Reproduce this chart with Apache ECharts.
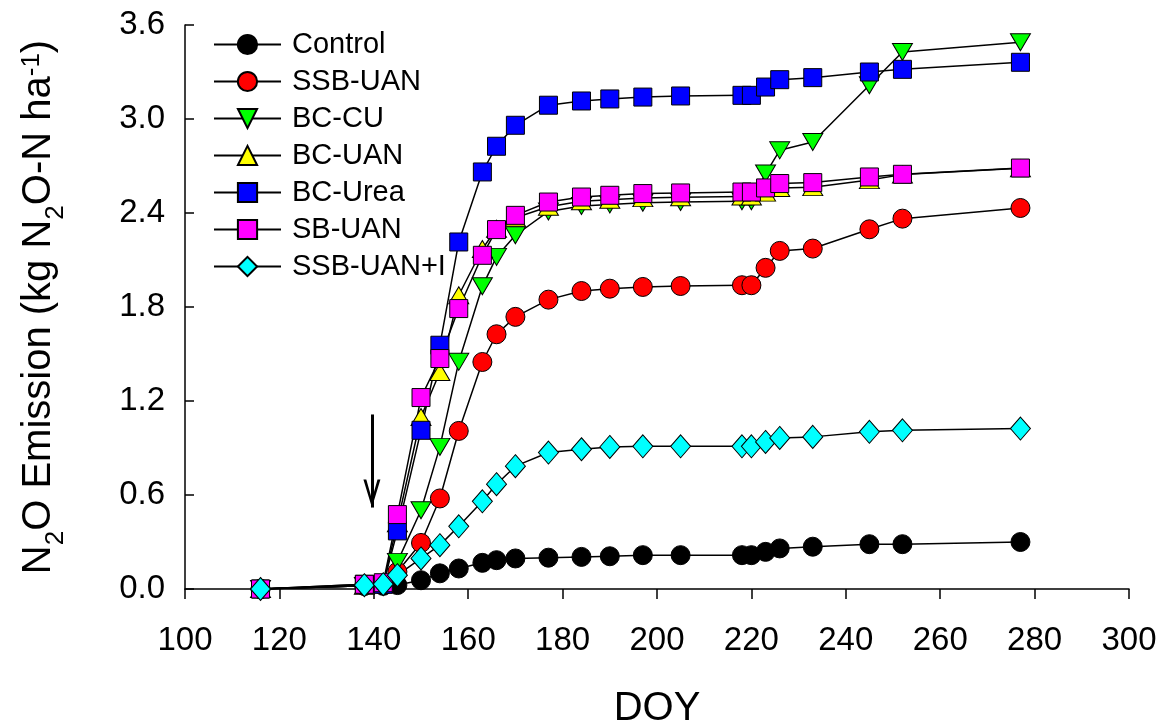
<!DOCTYPE html>
<html>
<head>
<meta charset="utf-8">
<script src="https://cdn.jsdelivr.net/npm/echarts@6/dist/echarts.min.js"></script>
<style>
  html, body { margin: 0; padding: 0; background: #fff; }
  #chart { width: 1165px; height: 725px; }
</style>
</head>
<body>
<div id="chart"></div>
<script>
// sampling days (DOY), shared by all treatments
var doy = [116, 138, 142, 145, 150, 154, 158, 163, 166, 170, 177, 184, 190, 197, 205, 218, 220, 223, 226, 233, 245, 252, 277];

// cumulative N2O emission, kg N2O-N ha-1
var control = [0, 0.02, 0.02, 0.025, 0.056, 0.10, 0.131, 0.167, 0.184, 0.195, 0.20, 0.205, 0.209, 0.216, 0.216, 0.216, 0.216, 0.237, 0.259, 0.27, 0.286, 0.286, 0.30];
var ssbUan = [0, 0.02, 0.03, 0.11, 0.294, 0.578, 1.009, 1.449, 1.626, 1.737, 1.847, 1.902, 1.917, 1.928, 1.934, 1.939, 1.939, 2.05, 2.158, 2.173, 2.296, 2.364, 2.432];
var bcCu = [0, 0.02, 0.03, 0.173, 0.503, 0.907, 1.45, 1.932, 2.12, 2.258, 2.41, 2.445, 2.455, 2.465, 2.47, 2.475, 2.475, 2.652, 2.80, 2.853, 3.215, 3.428, 3.49];
var bcUan = [0, 0.02, 0.03, 0.42, 1.098, 1.385, 1.875, 2.17, 2.30, 2.37, 2.44, 2.475, 2.485, 2.495, 2.50, 2.505, 2.505, 2.53, 2.56, 2.565, 2.61, 2.645, 2.685];
var bcUrea = [0, 0.03, 0.03, 0.371, 1.013, 1.556, 2.215, 2.662, 2.826, 2.96, 3.088, 3.115, 3.128, 3.14, 3.147, 3.151, 3.151, 3.204, 3.251, 3.264, 3.30, 3.317, 3.362];
var sbUan = [0, 0.03, 0.04, 0.475, 1.222, 1.471, 1.79, 2.13, 2.294, 2.385, 2.47, 2.502, 2.513, 2.524, 2.528, 2.534, 2.534, 2.56, 2.588, 2.594, 2.63, 2.647, 2.687];
var ssbUanI = [0, 0.024, 0.031, 0.088, 0.195, 0.28, 0.40, 0.56, 0.669, 0.784, 0.871, 0.892, 0.907, 0.911, 0.911, 0.911, 0.911, 0.939, 0.964, 0.971, 1.003, 1.013, 1.024];

var names = ['Control', 'SSB-UAN', 'BC-CU', 'BC-UAN', 'BC-Urea', 'SB-UAN', 'SSB-UAN+I'];
var colors = ['#000000', '#ff0000', '#00ff00', '#ffff00', '#0000ff', '#ff00ff', '#00ffff'];
var symbols = ['circle', 'circle', 'triangle', 'triangle', 'rect', 'rect', 'diamond'];
var sizes = [19, 19, [20, 17], [20, 17], [18, 18], [18, 18], [20, 23]];
var rotates = [0, 0, 180, 0, 0, 0, 0];
var values = [control, ssbUan, bcCu, bcUan, bcUrea, sbUan, ssbUanI];

// fertilizer application arrow
var arrowDoy = 139.6;
var arrowFrom = 1.114;
var arrowTo = 0.52;

var font = '"Liberation Sans", Arial, sans-serif';

function pairs(ys) {
  return doy.map(function (d, i) { return [d, ys[i]]; });
}

var series = names.map(function (n, i) {
  return {
    name: n,
    type: 'line',
    data: pairs(values[i]),
    symbol: symbols[i],
    symbolSize: sizes[i],
    symbolRotate: rotates[i],
    lineStyle: { color: '#000', width: 1.5 },
    itemStyle: { color: colors[i], borderColor: '#000', borderWidth: 1 }
  };
});

series[0].markLine = {
  silent: true,
  symbol: ['none', 'none'],
  label: { show: false },
  lineStyle: { color: '#000', width: 3, type: 'solid' },
  data: [[{ coord: [arrowDoy, arrowFrom] }, { coord: [arrowDoy, arrowTo] }]]
};
series[0].markPoint = {
  silent: true,
  symbol: 'path://M0,0L1.7,0L5,7L8.3,0L10,0L5,10Z',
  symbolSize: [17, 28],
  symbolKeepAspect: false,
  label: { show: false },
  itemStyle: { color: '#000', borderWidth: 0 },
  data: [{ coord: [arrowDoy, arrowTo + 14 / 156.7] }]
};

var chart = echarts.init(document.getElementById('chart'));
chart.setOption({
  animation: false,
  textStyle: { fontFamily: font },
  grid: { left: 185, right: 36, top: 25, bottom: 136, outerBoundsMode: 'none', containLabel: false },
  legend: {
    orient: 'vertical',
    left: 208,
    top: 25,
    itemWidth: 67,
    itemHeight: 24,
    itemGap: 8,
    textStyle: { fontSize: 29, color: '#000', fontFamily: font, padding: [0, 0, 0, 6] },
    data: names
  },
  xAxis: {
    type: 'value',
    min: 100,
    max: 300,
    interval: 20,
    name: 'DOY',
    nameLocation: 'middle',
    nameGap: 120,
    nameTextStyle: { fontSize: 40, color: '#000', fontFamily: font, verticalAlign: 'middle' },
    axisLine: { lineStyle: { color: '#000', width: 1.5 } },
    axisTick: { inside: false, length: 10, lineStyle: { color: '#000', width: 1.5 } },
    axisLabel: { fontSize: 33, color: '#000', margin: 35, fontFamily: font },
    splitLine: { show: false }
  },
  yAxis: {
    type: 'value',
    min: 0,
    max: 3.6,
    interval: 0.6,
    name: '{m|N}{sub|2}{m|O Emission (kg N}{sub|2}{m|O-N ha}{sup|-1}{m|)}',
    nameLocation: 'middle',
    nameRotate: 90,
    nameGap: 141,
    nameTextStyle: {
      color: '#000',
      fontFamily: font,
      align: 'center',
      verticalAlign: 'middle',
      rich: {
        m: { fontSize: 40, lineHeight: 40, verticalAlign: 'top', color: '#000', fontFamily: font },
        sub: { fontSize: 26, lineHeight: 50, padding: [24, 0, 0, 0], verticalAlign: 'top', color: '#000', fontFamily: font },
        sup: { fontSize: 26, lineHeight: 26, verticalAlign: 'top', color: '#000', fontFamily: font }
      }
    },
    axisLine: { show: true, lineStyle: { color: '#000', width: 1.5 } },
    axisTick: { show: true, inside: true, length: 9, lineStyle: { color: '#000', width: 1.5 } },
    axisLabel: {
      fontSize: 33, color: '#000', margin: 20, fontFamily: font,
      formatter: function (v) { return v.toFixed(1); }
    },
    splitLine: { show: false }
  },
  series: series
});
</script>
</body>
</html>
